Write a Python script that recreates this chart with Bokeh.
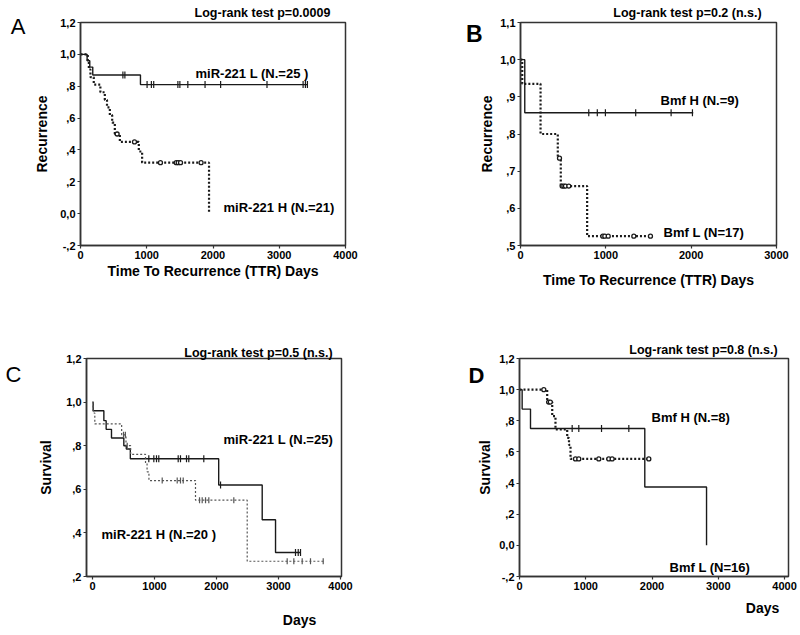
from bokeh.plotting import figure
from bokeh.layouts import column, row
from bokeh.models import FixedTicker, Label, LinearAxis
from bokeh.embed import file_html
from bokeh.resources import INLINE
import math

FONT = "Liberation Sans"

# ---------------- Panel A (TTR, miR-221) ----------------
a_l_time = [0, 100, 140, 185, 905, 3425]
a_l_surv = [1.0, 0.96, 0.92, 0.87, 0.81, 0.81]
a_l_cens = [640, 670, 1005, 1070, 1105, 1470, 1500, 1620, 1880, 2115, 2815, 3360, 3395, 3425]
a_h_time = [0, 110, 126, 150, 200, 300, 367, 400, 443, 478, 518, 594, 880, 930, 1940]
a_h_surv = [1.0, 0.952, 0.905, 0.857, 0.81, 0.762, 0.714, 0.667, 0.619, 0.571, 0.50, 0.45, 0.39, 0.32, 0.0]
a_h_cens = [553, 815, 1207, 1445, 1475, 1510, 1820]

# ---------------- Panel B (TTR, Bmf) ----------------
b_h_time = [0, 50, 2024]
b_h_surv = [1.0, 0.857, 0.857]
b_h_cens = [800, 900, 995, 1350, 1765, 2015]
b_l_time = [0, 20, 235, 437, 472, 781, 1543]
b_l_surv = [1.0, 0.935, 0.80, 0.735, 0.66, 0.525, 0.525]
b_l_cens = [457, 488, 508, 527, 566, 965, 988, 1028, 1328, 1523]

# ---------------- Panel C (Survival, miR-221) ----------------
c_l_time = [0, 10, 183, 220, 306, 505, 545, 610, 2035, 2737, 2952, 3355]
c_l_surv = [1.0, 0.96, 0.915, 0.875, 0.835, 0.80, 0.785, 0.74, 0.62, 0.46, 0.31, 0.31]
c_l_cens = [908, 989, 1032, 1069, 1382, 1419, 1516, 1553, 1795, 2065, 3274, 3318, 3355]
c_h_time = [0, 10, 37, 470, 540, 615, 855, 880, 910, 1661, 2495, 3731]
c_h_surv = [1.0, 0.95, 0.90, 0.85, 0.80, 0.76, 0.72, 0.68, 0.64, 0.55, 0.27, 0.27]
c_h_cens = [500, 530, 560, 1124, 1366, 1419, 1463, 1726, 1769, 1823, 1876, 2279, 3140, 3247, 3382, 3516, 3721]

# ---------------- Panel D (Survival, Bmf) ----------------
d_h_time = [0, 40, 166, 1891, 2823]
d_h_surv = [1.0, 0.875, 0.75, 0.375, 0.0]
d_h_cens = [795, 895, 1238, 1650]
d_l_time = [0, 418, 494, 543, 720, 747, 770, 1952]
d_l_surv = [1.0, 0.92, 0.83, 0.745, 0.69, 0.645, 0.555, 0.555]
d_l_cens = [367, 440, 465, 845, 895, 1197, 1348, 1398, 1952]

y_ticks_a = [-0.2, 0.0, 0.2, 0.4, 0.6, 0.8, 1.0, 1.2]
y_labels_a = ["-,2", "0,0", ",2", ",4", ",6", ",8", "1,0", "1,2"]
y_ticks_b = [0.5, 0.6, 0.7, 0.8, 0.9, 1.0, 1.1]
y_labels_b = [",5", ",6", ",7", ",8", ",9", "1,0", "1,1"]
y_ticks_c = [0.2, 0.4, 0.6, 0.8, 1.0, 1.2]
y_labels_c = [",2", ",4", ",6", ",8", "1,0", "1,2"]
x_ticks_4000 = [0, 1000, 2000, 3000, 4000]
x_ticks_3000 = [0, 1000, 2000, 3000]

LINE = "#1a1a1a"


def km_at(times, surv, t):
    v = surv[0]
    for ti, si in zip(times, surv):
        if ti <= t:
            v = si
    return v


class Panel:
    def __init__(self, origin, size, frame, xr, yr, xticks, yticks, ylabels, ylabel, xlabel=""):
        ox, oy = origin
        w, h = size
        fl, ft, fr, fb = frame
        self.origin = origin
        self.frame = frame
        self.xr = xr
        self.yr = yr
        p = figure(width=w, height=h, x_range=xr, y_range=yr,
                   output_backend="svg", toolbar_location=None,
                   min_border_left=fl - ox, min_border_right=ox + w - fr,
                   min_border_top=ft - oy, min_border_bottom=oy + h - fb)
        p.xgrid.visible = False
        p.ygrid.visible = False
        p.outline_line_color = "#333333"
        p.outline_line_width = 1.5
        p.outline_line_alpha = 1.0
        p.background_fill_color = "white"
        p.border_fill_color = "white"
        for ax in (p.xaxis[0], p.yaxis[0]):
            ax.axis_line_color = "#333333"
            ax.axis_line_width = 1.5
            ax.major_tick_line_color = "#333333"
            ax.major_tick_line_width = 1.2
            ax.major_tick_in = 0
            ax.major_tick_out = 3
            ax.minor_tick_line_color = None
            ax.major_label_text_font = FONT
            ax.major_label_text_font_style = "bold"
            ax.major_label_text_font_size = "11px"
            ax.major_label_text_color = "black"
            ax.axis_label_text_font = FONT
            ax.axis_label_text_font_style = "bold"
            ax.axis_label_text_font_size = "14px"
            ax.axis_label_text_color = "black"
            ax.major_label_standoff = 2
        p.xaxis.ticker = FixedTicker(ticks=xticks)
        p.yaxis.ticker = FixedTicker(ticks=yticks)
        p.yaxis.major_label_overrides = {t: l for t, l in zip(yticks, ylabels)}
        p.yaxis.axis_label = ylabel
        p.xaxis.axis_label = xlabel
        self.p = p

    def to_data(self, px, py):
        fl, ft, fr, fb = self.frame
        x = self.xr[0] + (px - fl) / (fr - fl) * (self.xr[1] - self.xr[0])
        y = self.yr[1] - (py - ft) / (fb - ft) * (self.yr[1] - self.yr[0])
        return x, y

    def text(self, s, px, py, size="13px", style="bold", align="left", baseline="middle"):
        x, y = self.to_data(px, py)
        self.p.add_layout(Label(x=x, y=y, text=s, text_font=FONT, text_font_size=size,
                                text_font_style=style, text_align=align,
                                text_baseline=baseline, text_color="black"))

    def side_text(self, side, s, pos, standoff, size="12px", style="bold"):
        # text outside the frame, drawn as the single tick label of a bare axis
        if side in ("above", "below"):
            v = round(self.to_data(pos, 0)[0], 3)
        else:
            v = round(self.to_data(0, pos)[1], 4)
        ax = LinearAxis(ticker=FixedTicker(ticks=[v]), major_label_overrides={v: s})
        ax.axis_line_color = None
        ax.major_tick_line_color = None
        ax.minor_tick_line_color = None
        ax.major_tick_in = 0
        ax.major_tick_out = 0
        ax.minor_tick_in = 0
        ax.minor_tick_out = 0
        ax.major_label_standoff = standoff
        ax.major_label_text_font = FONT
        ax.major_label_text_font_size = size
        ax.major_label_text_font_style = style
        ax.major_label_text_color = "black"
        self.p.add_layout(ax, side)

    def curve(self, times, surv, cens, dotted, thin=False):
        p = self.p
        color = LINE
        if dotted:
            dash = "2 2"
            lw = 1.2 if thin else 2.2
            if thin:
                color = "#555555"
        else:
            dash = "solid"
            lw = 1.4
        p.step(times, surv, mode="after", line_color=color, line_width=lw, line_dash=dash)
        cy = [km_at(times, surv, t) for t in cens]
        if dotted and not thin:
            p.scatter(cens, cy, marker="circle", size=4, fill_color="white",
                      line_color=LINE, line_width=1.3)
        else:
            p.scatter(cens, cy, marker="dash", angle=math.pi / 2, size=7 if not thin else 6,
                      line_color=color, line_width=1.2)


# Panel A
A = Panel((0, 0), (400, 300), (80, 22, 345, 246), (0, 4000), (-0.2, 1.2),
          x_ticks_4000, y_ticks_a, y_labels_a, "Recurrence", "Time To Recurrence (TTR) Days")
A.curve(a_l_time, a_l_surv, a_l_cens, dotted=False)
A.curve(a_h_time, a_h_surv, a_h_cens, dotted=True)
A.p.yaxis.axis_label_standoff = 7
A.p.xaxis.axis_label_standoff = 1
A.side_text("above", "Log-rank test p=0.0009", 262, 3, size="12.5px")
A.side_text("left", "A", 26, 6, size="22px", style="normal")
A.text("miR-221 L (N.=25 )", 195, 73)
A.text("miR-221 H (N.=21)", 223, 208)

# Panel B
B = Panel((400, 0), (400, 300), (520, 22, 776, 245), (0, 3000), (0.5, 1.1),
          x_ticks_3000, y_ticks_b, y_labels_b, "Recurrence", "Time To Recurrence (TTR) Days")
B.curve(b_h_time, b_h_surv, b_h_cens, dotted=False)
B.curve(b_l_time, b_l_surv, b_l_cens, dotted=True)
B.p.yaxis.axis_label_standoff = 2
B.p.xaxis.axis_label_standoff = 10
B.side_text("above", "Log-rank test p=0.2 (n.s.)", 687, 3, size="12.5px")
B.side_text("left", "B", 33, -6, size="23px")
B.text("Bmf H (N.=9)", 660, 100)
B.text("Bmf L (N=17)", 663, 232)

# Panel C
C = Panel((0, 300), (400, 330), (86, 358, 341, 584), (-97, 4016), (0.2, 1.2),
          x_ticks_4000, y_ticks_c, y_labels_c, "Survival")
C.curve(c_l_time, c_l_surv, c_l_cens, dotted=False)
C.curve(c_h_time, c_h_surv, c_h_cens, dotted=True, thin=True)
C.p.yaxis.axis_label_standoff = 9
C.side_text("above", "Log-rank test p=0.5 (n.s.)", 258, -1, size="12.5px")
C.side_text("left", "C", 375, 14, size="22px", style="normal")
C.side_text("below", "Days", 299, 19, size="14px")
C.text("miR-221 L (N.=25)", 223, 442)
C.text("miR-221 H (N.=20 )", 101, 540)

# Panel D
D = Panel((400, 300), (400, 330), (519, 356, 788, 579), (0, 4060), (-0.2, 1.2),
          x_ticks_4000, y_ticks_a, y_labels_a, "Survival")
D.curve(d_h_time, d_h_surv, d_h_cens, dotted=False)
D.curve(d_l_time, d_l_surv, d_l_cens, dotted=True)
D.p.yaxis.axis_label_standoff = 3
D.side_text("above", "Log-rank test p=0.8 (n.s.)", 703, 2, size="12.5px")
D.side_text("left", "D", 373, -10, size="22px")
D.side_text("below", "Days", 762, 7, size="14px")
D.text("Bmf H (N.=8)", 651, 416)
D.text("Bmf L (N=16)", 669, 570)

layout = column(row(A.p, B.p), row(C.p, D.p))
open("out.html", "w").write(file_html(layout, INLINE))
